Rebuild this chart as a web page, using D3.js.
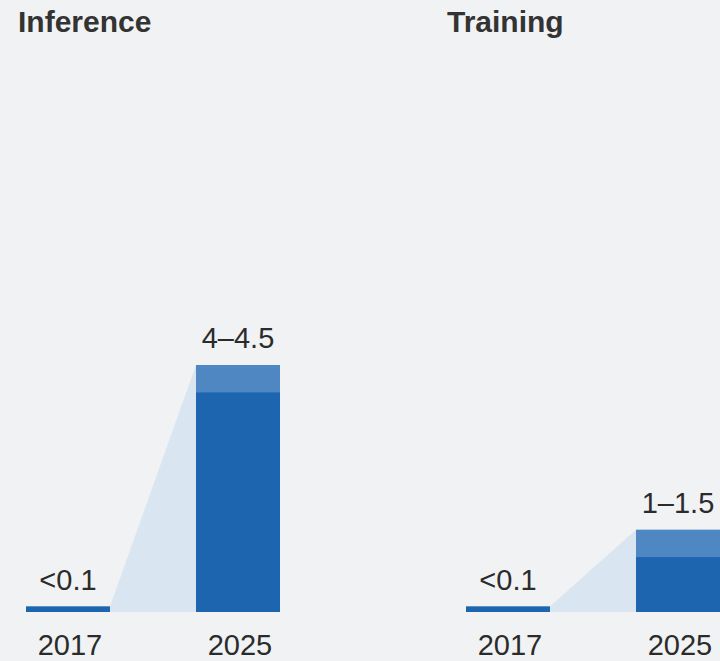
<!DOCTYPE html>
<html>
<head>
<meta charset="utf-8">
<script src="https://cdn.jsdelivr.net/npm/d3@7"></script>
<style>
  html, body { margin: 0; padding: 0; background: #f1f2f4; }
  svg { display: block; }
  text { font-family: "Liberation Sans", Arial, Helvetica, sans-serif; fill: #2b2b2b; }
  .title { font-weight: bold; font-size: 30px; fill: #333; }
  .val, .year { font-size: 29px; }
</style>
</head>
<body>
<div id="vis"></div>
<script>
// data
var panels = ['Inference', 'Training'];
var years = ['2017', '2025'];
var lowVals = { Inference: [0.1, 4], Training: [0.1, 1] };
var highVals = { Inference: [0.1, 4.5], Training: [0.1, 1.5] };
var valLabels = { Inference: ['<0.1', '4\u20134.5'], Training: ['<0.1', '1\u20131.5'] };

//layout
var W = 720, H = 661;
var panelOffset = 440;
var base = 612;

var svg = d3.select('#vis').append('svg')
    .attr('width', W)
    .attr('height', H);

var x = d3.scaleBand().domain(years).range([26, 280]).paddingInner(0.506).paddingOuter(0);
var y = d3.scaleLinear().domain([0, 4.5]).range([base, 365]);

panels.forEach(function (p, i) {
    var g = svg.append('g').attr('transform', 'translate(' + (i * panelOffset) + ',0)');
    var lo = lowVals[p], hi = highVals[p];

    //title
    g.append('text')
        .attr('class', 'title')
        .attr('x', 18 + (i ? -11 : 0))
        .attr('y', 32)
        .text(p);

    //light connector area
    var x0 = x(years[0]) + x.bandwidth();
    var x1 = x(years[1]);
    g.append('path')
        .attr('d', 'M' + x0 + ',' + y(hi[0]) + 'L' + x1 + ',' + y(hi[1]) +
            'L' + x1 + ',' + y(0) + 'L' + x0 + ',' + y(0) + 'Z')
        .style('fill', '#d9e6f2');

    //upper range part
    g.selectAll('.bar-hi')
        .data(years)
        .enter()
        .append('rect')
        .attr('x', function (d) { return x(d); })
        .attr('width', x.bandwidth())
        .attr('y', function (d, j) { return y(hi[j]); })
        .attr('height', function (d, j) { return y(0) - y(hi[j]); })
        .style('fill', '#4f87c2');

    //lower part
    g.selectAll('.bar-lo')
        .data(years)
        .enter()
        .append('rect')
        .attr('x', function (d) { return x(d); })
        .attr('width', x.bandwidth())
        .attr('y', function (d, j) { return y(lo[j]); })
        .attr('height', function (d, j) { return y(0) - y(lo[j]); })
        .style('fill', '#1e65b0');

    //value labels
    g.selectAll('.val')
        .data(years)
        .enter()
        .append('text')
        .attr('class', 'val')
        .attr('text-anchor', 'middle')
        .attr('x', function (d) { return x(d) + x.bandwidth() / 2; })
        .attr('y', function (d, j) { return y(hi[j]) - 17; })
        .text(function (d, j) { return valLabels[p][j]; });

    //year labels
    g.selectAll('.year')
        .data(years)
        .enter()
        .append('text')
        .attr('class', 'year')
        .attr('text-anchor', 'middle')
        .attr('x', function (d) { return x(d) + x.bandwidth() / 2 + 2; })
        .attr('y', 655)
        .text(function (d) { return d; });
});
</script>
</body>
</html>
